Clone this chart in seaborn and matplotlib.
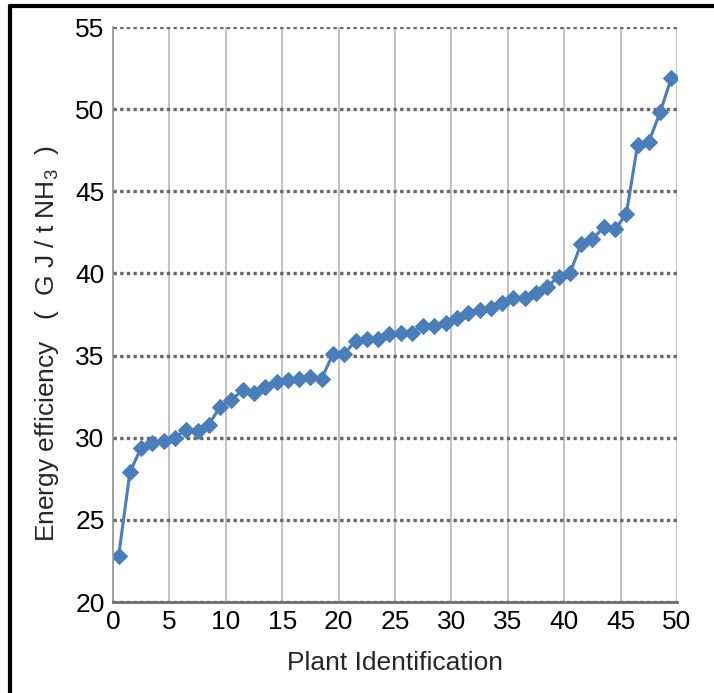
import pandas as pd
import seaborn as sns
import matplotlib.pyplot as plt
from matplotlib.lines import Line2D

# Plant positions and energy efficiency values (GJ / t NH3)
plant_pos = [0.5, 1.5, 2.5, 3.5, 4.5, 5.5, 6.5, 7.5, 8.5, 9.5,
             10.5, 11.5, 12.5, 13.5, 14.5, 15.5, 16.5, 17.5, 18.5, 19.5,
             20.5, 21.5, 22.5, 23.5, 24.5, 25.5, 26.5, 27.5, 28.5, 29.5,
             30.5, 31.5, 32.5, 33.5, 34.5, 35.5, 36.5, 37.5, 38.5, 39.5,
             40.5, 41.5, 42.5, 43.5, 44.5, 45.5, 46.5, 47.5, 48.5, 49.5]
efficiency = [22.8, 27.9, 29.4, 29.7, 29.8, 30.0, 30.5, 30.4, 30.8, 31.9,
              32.3, 32.9, 32.7, 33.1, 33.4, 33.5, 33.6, 33.7, 33.6, 35.1,
              35.1, 35.9, 36.0, 36.0, 36.3, 36.4, 36.4, 36.8, 36.8, 37.0,
              37.3, 37.6, 37.8, 37.9, 38.2, 38.5, 38.5, 38.8, 39.2, 39.8,
              40.0, 41.8, 42.1, 42.8, 42.7, 43.6, 47.8, 48.0, 49.8, 51.9]
x_ticks = [0, 5, 10, 15, 20, 25, 30, 35, 40, 45, 50]
y_ticks = [20, 25, 30, 35, 40, 45, 50, 55]

df = pd.DataFrame({"plant": plant_pos, "efficiency": efficiency})

sns.set_style("white")
plt.rcParams['font.family'] = ['Liberation Sans', 'DejaVu Sans']
plt.rcParams['mathtext.default'] = 'regular'

fig = plt.figure(figsize=(7.14, 6.93), dpi=100)
ax = fig.add_axes([113 / 714, 1 - 602 / 693, 564 / 714, 575 / 693])

sns.lineplot(data=df, x="plant", y="efficiency", ax=ax, color="#4A7EBB",
             linewidth=2.2, marker="D", markersize=8, markeredgecolor="#4A7EBB")

ax.set_xlim(0, 50)
ax.set_ylim(20, 55)
ax.set_xticks(x_ticks)
ax.set_yticks(y_ticks)
ax.tick_params(axis="both", labelsize=19, colors="#222222", length=4, width=1,
               labelcolor="black", pad=2)

# grid: dotted dark horizontal lines, light solid vertical lines
ax.yaxis.grid(True, color="#666666", linestyle=(0, (1, 1)), linewidth=2.4)
ax.xaxis.grid(True, color="#bdbdbd", linestyle="-", linewidth=1.3)
ax.set_axisbelow(True)

for side in ["top", "right"]:
    ax.spines[side].set_visible(False)
ax.spines["left"].set_color("#9a9a9a")
ax.spines["left"].set_linewidth(1.3)
ax.spines["bottom"].set_color("#6f6f6f")
ax.spines["bottom"].set_linewidth(2)

ax.set_xlabel("Plant Identification", fontsize=19, labelpad=12)
ax.set_ylabel("Energy efficiency   (  G J / t NH$_3$  )", fontsize=19)
ax.yaxis.set_label_coords(-0.092, 0.45)

# outer frame lines (left and top)
fig.add_artist(Line2D([10 / 714, 10 / 714], [0, 1 - 6 / 693], transform=fig.transFigure,
                      color="black", linewidth=3))
fig.add_artist(Line2D([10 / 714, 1], [1 - 6 / 693, 1 - 6 / 693], transform=fig.transFigure,
                      color="black", linewidth=3))

plt.savefig("out.png", dpi=100)
